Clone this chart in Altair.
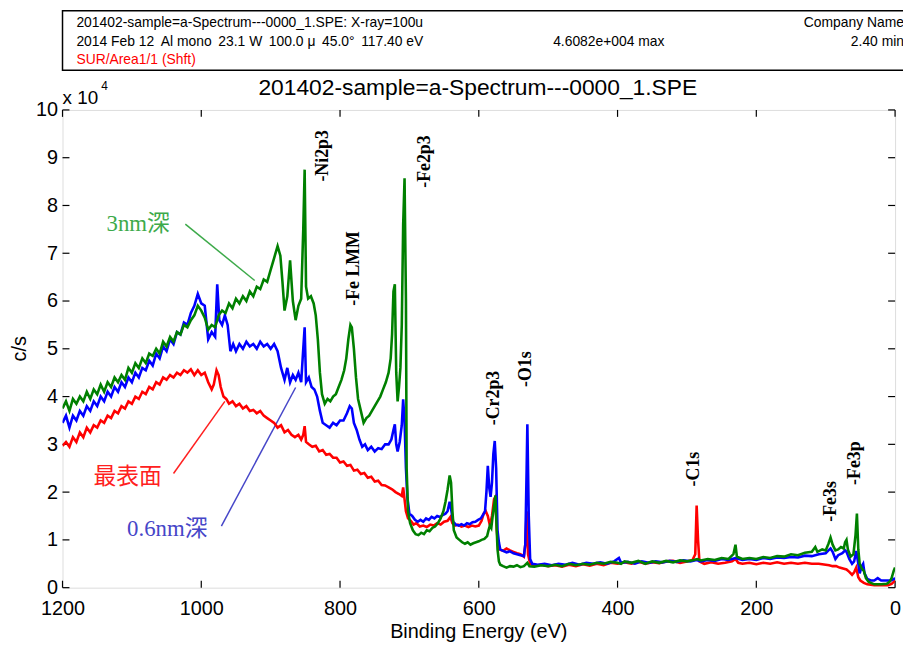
import altair as alt
import pandas as pd

# ---------------- data (binding energy eV, counts x1e4) ----------------
red_pts = [
    (1200, 2.97), (1195, 3.05), (1190, 2.95), (1185, 3.15), (1180, 3.05), (1175, 3.25), (1170, 3.15),
    (1165, 3.35), (1160, 3.25), (1155, 3.4), (1150, 3.35), (1145, 3.5), (1140, 3.45), (1135, 3.6),
    (1130, 3.55), (1125, 3.7), (1120, 3.65), (1115, 3.8), (1110, 3.75), (1105, 3.9), (1100, 3.85),
    (1095, 4.0), (1090, 3.95), (1085, 4.1), (1080, 4.05), (1075, 4.2), (1070, 4.15), (1065, 4.3),
    (1060, 4.25), (1055, 4.4), (1050, 4.35), (1045, 4.45), (1040, 4.4), (1035, 4.5), (1030, 4.45),
    (1025, 4.55), (1020, 4.5), (1015, 4.57), (1010, 4.45), (1005, 4.55), (1000, 4.45), (995, 4.5),
    (990, 4.3), (985, 4.15), (982, 4.25), (978, 4.55), (975, 4.45), (972, 4.2), (968, 4.0), (964, 3.95),
    (960, 3.85), (955, 3.9), (950, 3.8), (945, 3.85), (940, 3.75), (935, 3.8), (930, 3.7), (925, 3.72),
    (920, 3.65), (915, 3.7), (910, 3.6), (905, 3.55), (900, 3.5), (895, 3.45), (890, 3.35), (885, 3.4),
    (880, 3.25), (875, 3.3), (870, 3.2), (865, 3.15), (860, 3.2), (856, 3.1), (853, 3.2), (851, 3.38),
    (849, 3.05), (845, 3.0), (840, 2.95), (835, 2.97), (830, 2.85), (825, 2.88), (820, 2.78), (815, 2.8),
    (810, 2.72), (805, 2.72), (800, 2.62), (795, 2.64), (790, 2.55), (785, 2.57), (780, 2.45),
    (775, 2.47), (770, 2.38), (765, 2.4), (760, 2.3), (755, 2.32), (750, 2.22), (745, 2.24), (740, 2.15),
    (735, 2.14), (730, 2.1), (725, 2.06), (720, 2.0), (715, 1.96), (711, 1.92), (709, 2.1), (707, 1.85),
    (705, 1.6), (702, 1.45), (698, 1.4), (694, 1.32), (690, 1.35), (685, 1.28), (680, 1.3), (675, 1.27),
    (670, 1.32), (665, 1.3), (660, 1.35), (655, 1.32), (650, 1.38), (645, 1.4), (641, 1.48), (638, 1.35),
    (634, 1.3), (630, 1.32), (625, 1.28), (620, 1.3), (615, 1.27), (610, 1.3), (605, 1.28), (600, 1.3),
    (596, 1.4), (593, 1.55), (590, 1.6), (587, 1.5), (584, 1.3), (581, 1.5), (578, 1.85), (576, 1.9),
    (574, 1.2), (572, 0.85), (570, 0.8), (565, 0.77), (560, 0.82), (555, 0.78), (550, 0.75), (545, 0.72),
    (540, 0.7), (535, 0.65), (533, 0.9), (531, 1.6), (529, 0.7), (526, 0.5), (520, 0.46), (510, 0.48),
    (500, 0.45), (490, 0.47), (480, 0.44), (470, 0.48), (460, 0.45), (450, 0.49), (440, 0.46),
    (430, 0.5), (420, 0.47), (410, 0.52), (400, 0.5), (390, 0.53), (380, 0.5), (370, 0.54), (360, 0.5),
    (350, 0.53), (340, 0.51), (330, 0.55), (320, 0.56), (310, 0.52), (300, 0.55), (292, 0.58),
    (288, 0.7), (286, 1.72), (284, 1.0), (282, 0.55), (275, 0.5), (265, 0.53), (255, 0.5), (245, 0.52),
    (235, 0.55), (230, 0.6), (226, 0.52), (220, 0.5), (210, 0.52), (200, 0.49), (190, 0.52), (180, 0.5),
    (170, 0.53), (160, 0.5), (150, 0.52), (140, 0.5), (130, 0.52), (120, 0.5), (110, 0.5), (100, 0.48),
    (95, 0.47), (90, 0.45), (85, 0.45), (80, 0.42), (75, 0.4), (70, 0.38), (66, 0.33), (62, 0.27),
    (59, 0.32), (56, 0.42), (53, 0.22), (50, 0.15), (45, 0.1), (40, 0.07), (30, 0.05), (20, 0.05),
    (10, 0.05), (5, 0.08), (2, 0.12), (0, 0.15),
]

blue_pts = [
    (1200, 3.45), (1195, 3.6), (1190, 3.35), (1185, 3.6), (1180, 3.5), (1175, 3.7), (1170, 3.6),
    (1165, 3.8), (1160, 3.7), (1155, 3.9), (1150, 3.8), (1145, 4.0), (1140, 3.9), (1135, 4.1),
    (1130, 4.0), (1125, 4.2), (1120, 4.1), (1115, 4.3), (1110, 4.2), (1105, 4.4), (1100, 4.3),
    (1095, 4.5), (1090, 4.4), (1085, 4.6), (1080, 4.55), (1075, 4.75), (1070, 4.65), (1065, 4.9),
    (1060, 4.8), (1055, 5.05), (1050, 4.95), (1045, 5.2), (1040, 5.1), (1035, 5.35), (1030, 5.3),
    (1025, 5.55), (1020, 5.5), (1015, 5.75), (1010, 5.9), (1005, 6.15), (1000, 5.95), (995, 5.9),
    (990, 5.2), (985, 5.35), (980, 5.25), (977, 6.35), (974, 5.6), (970, 5.5), (966, 5.7), (962, 5.5),
    (958, 4.95), (954, 5.1), (950, 4.95), (945, 5.1), (940, 5.0), (935, 5.15), (930, 5.05), (925, 5.1),
    (920, 5.0), (915, 5.15), (910, 5.05), (905, 5.1), (900, 5.0), (895, 5.1), (890, 4.95), (885, 4.6),
    (880, 4.35), (876, 4.6), (872, 4.3), (868, 4.45), (864, 4.35), (860, 4.5), (856, 4.3), (853, 5.0),
    (851, 5.45), (849, 4.3), (845, 4.4), (841, 4.2), (837, 4.15), (833, 4.0), (829, 3.7), (825, 3.45),
    (820, 3.4), (815, 3.35), (810, 3.45), (805, 3.4), (800, 3.5), (795, 3.5), (790, 3.65), (786, 3.8),
    (783, 3.75), (780, 3.45), (776, 3.3), (772, 3.1), (768, 2.95), (764, 3.0), (760, 2.88), (755, 2.95),
    (750, 2.85), (745, 2.92), (740, 2.9), (735, 3.0), (730, 3.0), (726, 3.1), (723, 3.3), (721, 3.42),
    (719, 3.0), (717, 2.85), (714, 3.05), (711, 3.4), (709, 3.94), (707, 3.5), (705, 2.5), (703, 1.9),
    (700, 1.55), (696, 1.5), (692, 1.42), (688, 1.38), (684, 1.42), (680, 1.38), (676, 1.45),
    (672, 1.42), (668, 1.48), (664, 1.45), (660, 1.5), (656, 1.48), (652, 1.52), (648, 1.55),
    (645, 1.6), (642, 1.8), (640, 1.65), (637, 1.38), (633, 1.32), (629, 1.3), (625, 1.33), (621, 1.3),
    (617, 1.35), (613, 1.33), (609, 1.37), (605, 1.38), (601, 1.42), (597, 1.45), (594, 1.52),
    (591, 1.6), (589, 2.0), (587, 2.55), (585, 2.1), (583, 1.9), (581, 2.2), (579, 2.8), (577, 3.07),
    (575, 2.5), (573, 1.2), (571, 0.95), (569, 0.8), (565, 0.77), (560, 0.74), (555, 0.76), (550, 0.72),
    (545, 0.7), (540, 0.68), (535, 0.66), (533, 0.9), (531, 2.5), (530, 3.42), (528, 1.5), (526, 0.6),
    (523, 0.5), (515, 0.48), (505, 0.5), (495, 0.47), (485, 0.5), (475, 0.48), (465, 0.52), (455, 0.48),
    (445, 0.52), (435, 0.5), (425, 0.53), (415, 0.5), (405, 0.55), (398, 0.62), (395, 0.52), (385, 0.54),
    (375, 0.5), (365, 0.55), (355, 0.52), (345, 0.55), (335, 0.53), (325, 0.56), (315, 0.54),
    (305, 0.57), (295, 0.55), (286, 0.58), (280, 0.55), (270, 0.58), (260, 0.56), (250, 0.6),
    (240, 0.58), (230, 0.62), (220, 0.58), (210, 0.6), (200, 0.58), (190, 0.62), (180, 0.6), (170, 0.63),
    (160, 0.62), (150, 0.64), (140, 0.63), (130, 0.67), (120, 0.66), (110, 0.7), (100, 0.72), (96, 0.78),
    (93, 0.82), (90, 0.75), (86, 0.6), (82, 0.68), (76, 0.72), (72, 0.78), (70, 0.75), (66, 0.6),
    (62, 0.5), (59, 0.55), (56, 0.77), (53, 0.5), (51, 0.3), (48, 0.45), (46, 0.5), (44, 0.3), (40, 0.18),
    (35, 0.15), (30, 0.15), (25, 0.2), (20, 0.15), (12, 0.15), (6, 0.15), (2, 0.18), (0, 0.2),
]

green_pts = [
    (1200, 3.75), (1195, 3.9), (1190, 3.7), (1185, 3.95), (1180, 3.85), (1175, 4.0), (1170, 3.9),
    (1165, 4.1), (1160, 3.95), (1155, 4.15), (1150, 4.05), (1145, 4.25), (1140, 4.1), (1135, 4.3),
    (1130, 4.2), (1125, 4.4), (1120, 4.3), (1115, 4.45), (1110, 4.35), (1105, 4.6), (1100, 4.5),
    (1095, 4.7), (1090, 4.6), (1085, 4.8), (1080, 4.7), (1075, 4.9), (1070, 4.85), (1065, 5.0),
    (1060, 4.9), (1055, 5.15), (1050, 5.05), (1045, 5.25), (1040, 5.15), (1035, 5.35), (1030, 5.3),
    (1025, 5.5), (1020, 5.45), (1015, 5.6), (1010, 5.7), (1005, 5.9), (1000, 5.8), (995, 5.65),
    (990, 5.4), (985, 5.5), (980, 5.45), (975, 5.7), (970, 5.8), (965, 5.75), (960, 5.95), (955, 5.85),
    (950, 6.05), (945, 5.95), (940, 6.1), (935, 6.0), (930, 6.2), (925, 6.1), (920, 6.3), (915, 6.25),
    (910, 6.45), (905, 6.4), (900, 6.65), (895, 6.9), (890, 7.15), (886, 6.95), (883, 6.4), (880, 5.8),
    (876, 6.1), (872, 6.85), (868, 6.0), (864, 5.6), (860, 5.9), (856, 6.05), (853, 7.5), (851, 8.75),
    (849, 6.3), (846, 6.05), (842, 6.1), (838, 5.95), (835, 5.7), (832, 5.2), (829, 4.5), (826, 4.05),
    (822, 3.85), (818, 3.95), (814, 3.9), (810, 4.0), (806, 4.05), (802, 4.2), (798, 4.35), (794, 4.55),
    (791, 4.8), (788, 5.2), (785, 5.5), (783, 5.45), (780, 5.0), (777, 4.4), (774, 3.95), (770, 3.7),
    (766, 3.45), (762, 3.55), (758, 3.6), (754, 3.7), (750, 3.8), (746, 3.9), (742, 4.0), (738, 4.15),
    (734, 4.3), (730, 4.5), (727, 4.8), (725, 5.3), (723, 6.2), (721, 6.35), (719, 4.5), (717, 3.9),
    (715, 4.2), (713, 4.6), (711, 5.5), (709, 7.6), (707, 8.57), (705, 6.0), (704, 2.5), (702, 1.6),
    (699, 1.35), (695, 1.2), (691, 1.12), (687, 1.1), (683, 1.15), (679, 1.12), (675, 1.2), (671, 1.18),
    (667, 1.25), (663, 1.28), (659, 1.35), (655, 1.45), (651, 1.6), (648, 1.8), (645, 2.05), (642, 2.35),
    (640, 2.2), (638, 1.6), (636, 1.2), (632, 1.05), (628, 1.0), (624, 0.95), (620, 0.92), (616, 0.95),
    (612, 0.9), (608, 0.93), (604, 0.95), (600, 0.97), (596, 1.0), (592, 1.02), (588, 1.08), (586, 1.2),
    (584, 1.3), (582, 1.25), (580, 1.5), (578, 1.7), (576, 1.93), (575, 1.5), (573, 0.8), (571, 0.55),
    (569, 0.48), (565, 0.45), (560, 0.42), (555, 0.45), (550, 0.44), (545, 0.47), (540, 0.43),
    (535, 0.45), (530, 0.52), (527, 0.45), (520, 0.44), (510, 0.47), (500, 0.45), (490, 0.48),
    (480, 0.45), (470, 0.5), (460, 0.47), (450, 0.5), (440, 0.48), (430, 0.52), (420, 0.5), (410, 0.54),
    (400, 0.52), (395, 0.5), (390, 0.55), (380, 0.52), (370, 0.56), (360, 0.5), (350, 0.55), (340, 0.52),
    (330, 0.56), (320, 0.53), (310, 0.57), (300, 0.55), (290, 0.58), (285, 0.6), (280, 0.57), (270, 0.6),
    (260, 0.58), (250, 0.62), (240, 0.6), (233, 0.7), (230, 0.9), (228, 0.65), (220, 0.6), (210, 0.62),
    (200, 0.6), (190, 0.64), (180, 0.62), (170, 0.66), (160, 0.65), (150, 0.7), (140, 0.68), (130, 0.73),
    (120, 0.75), (115, 0.85), (112, 0.75), (105, 0.8), (100, 0.78), (96, 0.92), (93, 1.05), (90, 0.9),
    (86, 0.78), (82, 0.8), (78, 0.85), (74, 0.82), (72, 0.95), (70, 1.0), (68, 0.8), (64, 0.65), (60, 0.7),
    (57, 1.1), (55, 1.55), (53, 0.8), (51, 0.5), (48, 0.4), (45, 0.35), (42, 0.2), (38, 0.12), (30, 0.07),
    (20, 0.07), (12, 0.08), (8, 0.12), (5, 0.2), (2, 0.35), (0, 0.42),
]

series_names = ["最表面", "0.6nm深", "3nm深"]
series_colors = ["#ff0000", "#0000ff", "#008000"]
label_colors = ["#ff2020", "#4646c8", "#3daa4a"]

# peak labels: text, energy, counts (bottom of the vertical text)
peak_texts = ["-Ni2p3", "-Fe LMM", "-Fe2p3", "-Cr2p3", "-O1s", "-C1s", "-Fe3s", "-Fe3p"]
peak_E = [824, 780, 677, 578, 532, 290, 93, 57]
peak_v = [8.5, 5.9, 8.37, 3.4, 4.2, 2.12, 1.38, 2.15]

# series annotation texts (center) and pointer lines
ann_E = [1106, 1049, 1091]
ann_v = [2.32, 1.22, 7.61]
ptr_E1 = [1040, 971, 1023]
ptr_v1 = [2.39, 1.29, 7.61]
ptr_E2 = [966, 864, 923]
ptr_v2 = [3.9, 4.19, 6.43]

x_ticks = [0, 200, 400, 600, 800, 1000, 1200]
y_ticks = list(range(0, 11))

NB = "\u00a0"
header_line1 = "201402-sample=a-Spectrum---0000_1.SPE: X-ray=100u"
header_line2 = ("2014 Feb 12" + NB + "\u2009" + "Al mono" + NB + "\u2009" + "23.1 W" + NB + "\u2009"
                + "100.0 \u03bc" + NB + "\u2009" + "45.0\u00b0" + NB + "\u2009" + "117.40 eV")
header_max = "4.6082e+004 max"
header_line3 = "SUR/Area1/1 (Shft)"
header_company = "Company Name"
header_time = "2.40 min"
title_text = "201402-sample=a-Spectrum---0000_1.SPE"

# ---------------- build ----------------
W, H = 840, 482
SANS = "Liberation Sans"
SERIF = "Liberation Serif, Noto Sans CJK JP"

rows = []
for name, pts in zip(series_names, [red_pts, blue_pts, green_pts]):
    for i, (e, v) in enumerate(pts):
        rows.append({"series": name, "E": e, "v": v, "i": i})
df = pd.DataFrame(rows)

xs = alt.Scale(domain=[0, 1200], reverse=True, nice=False)
ys = alt.Scale(domain=[0, 10], nice=False)
xaxis = alt.Axis(values=x_ticks, format="d", ticks=False, domain=False, grid=False, labelFontSize=20,
                 labelFont=SANS, labelColor="black", labelFlush=False, labelPadding=11, title=None)
yaxis = alt.Axis(values=y_ticks, format="d", ticks=False, domain=False, grid=False, labelFontSize=20,
                 labelFont=SANS, labelColor="black", labelPadding=5, title=None)

def X(f):
    return alt.X(f, scale=xs, axis=xaxis)

def Y(f):
    return alt.Y(f, scale=ys, axis=yaxis)

lines = alt.Chart(df).mark_line(strokeWidth=2.6, clip=True).encode(
    x=X("E:Q"), y=Y("v:Q"),
    color=alt.Color("series:N", scale=alt.Scale(domain=series_names, range=series_colors), legend=None),
    detail="series:N",
    order="i:Q",
)

tick_df = pd.DataFrame({"E": x_ticks})
ytick_df = pd.DataFrame({"v": y_ticks})
xt_bottom = alt.Chart(tick_df).mark_rule(color="black", strokeWidth=1.2).encode(
    x=X("E:Q"), y=alt.value(H), y2=alt.value(H - 7))
xt_top = alt.Chart(tick_df).mark_rule(color="black", strokeWidth=1.2).encode(
    x=X("E:Q"), y=alt.value(0), y2=alt.value(7))
yt_left = alt.Chart(ytick_df).mark_rule(color="black", strokeWidth=1.2).encode(
    y=Y("v:Q"), x=alt.value(0), x2=alt.value(7))
yt_right = alt.Chart(ytick_df).mark_rule(color="black", strokeWidth=1.2).encode(
    y=Y("v:Q"), x=alt.value(W), x2=alt.value(W - 7))

peak_df = pd.DataFrame({"t": peak_texts, "E": peak_E, "v": peak_v})
peaks = alt.Chart(peak_df).mark_text(angle=270, align="left", baseline="middle", font="Liberation Serif",
                                     fontWeight="bold", fontSize=18, color="black").encode(
    x=X("E:Q"), y=Y("v:Q"), text="t:N")

ann_layers = []
for t, e, v, e1, v1, e2, v2, c in zip(series_names, ann_E, ann_v, ptr_E1, ptr_v1, ptr_E2, ptr_v2, label_colors):
    d = pd.DataFrame({"t": [t], "E": [e], "v": [v], "E1": [e1], "v1": [v1], "E2": [e2], "v2": [v2]})
    ann_layers.append(alt.Chart(d).mark_rule(strokeWidth=1.5, color=c).encode(
        x=X("E1:Q"), y=Y("v1:Q"), x2="E2:Q", y2="v2:Q"))
    ann_layers.append(alt.Chart(d).mark_text(font=SERIF, fontSize=23, align="center", baseline="middle",
                                             color=c).encode(x=X("E:Q"), y=Y("v:Q"), text="t:N"))

# header box and texts (pixel positions relative to plot origin)
hdr_box = alt.Chart(pd.DataFrame({"a": [0]})).mark_rect(fill=None, stroke="black", strokeWidth=1.5).encode(
    x=alt.value(0), x2=alt.value(W + 30), y=alt.value(-100), y2=alt.value(-40))

def txt(s, x, y, size, align="left", color="black", font=SANS, baseline="middle"):
    return alt.Chart(pd.DataFrame({"t": [s]})).mark_text(
        align=align, baseline=baseline, fontSize=size, font=font, color=color).encode(
        x=alt.value(x), y=alt.value(y), text="t:N")

texts = [
    txt(header_line1, 14, -88, 14),
    txt(header_line2, 14, -69, 14),
    txt(header_max, 495, -69, 14),
    txt(header_line3, 14, -50, 14, color="#ff0000"),
    txt(header_company, 849, -88, 14, align="right"),
    txt(header_time, 849, -69, 14, align="right"),
    txt(title_text, W / 2 - 1, -22, 23, align="center"),
    txt("x 10", 0, -12, 19),
    txt("4", 39, -24, 12),
    txt("Binding Energy (eV)", W / 2, 527, 20, align="center"),
]
ylab = alt.Chart(pd.DataFrame({"t": ["c/s"]})).mark_text(
    angle=270, align="center", baseline="middle", fontSize=20, font=SANS, color="black").encode(
    x=alt.value(-43), y=alt.value(241), text="t:N")

chart = alt.layer(
    hdr_box, *texts, ylab, xt_bottom, xt_top, yt_left, yt_right, *ann_layers, lines, peaks
).properties(
    width=W, height=H,
    autosize=alt.AutoSizeParams(type="none"),
    padding={"left": 55, "top": 100, "right": 8, "bottom": 54},
).configure_view(stroke="black", strokeWidth=1.5).configure(background="white")

chart.save("out.html", embed_options={"renderer": "svg", "actions": False})
